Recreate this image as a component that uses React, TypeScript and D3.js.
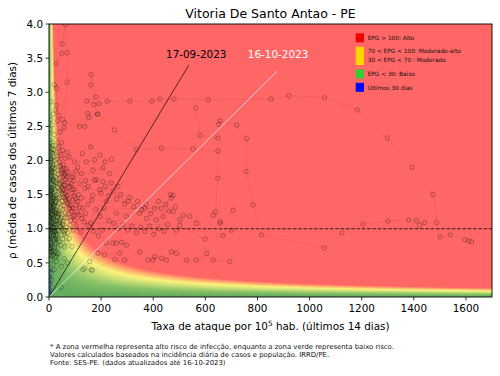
import React, { useMemo } from "react";
import * as d3 from "d3";

const W = 500;
const H = 376;
const X_MAX = 1700;
const Y_MAX = 4;

const titleText = "Vitoria De Santo Antao - PE";
const xTicks = [0, 200, 400, 600, 800, 1000, 1200, 1400, 1600];
const yTicks = [0, 0.5, 1, 1.5, 2, 2.5, 3, 3.5, 4];

// risk level colour stops for the background field
const riskStops = [0, 20, 45, 65, 85, 110];
const riskColors = ["#62ab5d", "#86c066", "#cfe178", "#fbf37a", "#ffb26e", "#ff6666"];
const RHO_EXP = 1.35;

// trajectory segments [attack rate, rho]
const segTop: [number, number][] = [
  [8, 2.86], [28, 2.81], [28, 3.06], [21, 3.11], [28, 3.42], [49, 3.57], [51, 3.71], [63, 3.99],
  [70, 3.58], [70, 3.15], [60, 2.55], [117, 2.5], [137, 2.5], [152, 2.63], [185, 2.68],
  [160, 3.11], [162, 3.26], [181, 2.93], [145, 2.87], [172, 2.82], [192, 2.83], [224, 2.87],
  [310, 2.87], [395, 2.87], [425, 2.9], [480, 2.9], [611, 2.89], [852, 2.9], [921, 2.95],
  [1058, 2.92], [1183, 2.74], [1298, 2.33], [1393, 1.9], [1474, 1.5], [1487, 1.09],
  [1501, 0.88], [1540, 0.91], [1597, 0.84], [1611, 0.82], [1621, 0.81],
];
const segSecond: [number, number][] = [
  [149, 2.69], [188, 2.68], [252, 2.45], [335, 2.16], [431, 2.18], [553, 2.17], [648, 2.14],
  [648, 1.74], [639, 1.25], [658, 1.1], [701, 0.98], [668, 0.9], [599, 0.85], [502, 1.05], [489, 0.98],
];
const segThird: [number, number][] = [
  [563, 2.77], [580, 2.37], [648, 2.33], [651, 2.53], [656, 2.58], [720, 2.52], [758, 2.32],
  [756, 1.84], [783, 1.35], [815, 0.91], [1056, 0.72], [1124, 0.94], [1205, 1.07], [1301, 1.11],
  [1380, 1.13], [1410, 1.12], [1442, 1.09], [1422, 1.05],
];
const segMid: [number, number][] = [
  [98, 1.98], [143, 1.98], [175, 2.01], [168, 1.86], [207, 1.89], [233, 1.81], [124, 1.81],
  [92, 1.76], [175, 1.71], [207, 1.69], [239, 1.67], [265, 1.62], [194, 1.57], [137, 1.59],
  [168, 1.49], [124, 1.45], [220, 1.4], [303, 1.4], [367, 1.3], [431, 1.3], [470, 1.45],
  [476, 1.49], [465, 1.5], [438, 1.18], [412, 1.13], [374, 1.15], [348, 1.23], [297, 1.18],
  [258, 1.23], [476, 1.25], [502, 1.13], [515, 1.2], [540, 1.18], [566, 1.08], [630, 1.2],
  [656, 1.08], [707, 1.27],
];
const segMid2: [number, number][] = [
  [150, 1.62], [182, 1.72], [200, 1.52], [215, 1.62], [228, 1.48], [246, 1.55], [260, 1.44],
  [275, 1.5], [290, 1.36], [310, 1.46], [325, 1.32], [340, 1.4], [356, 1.28], [372, 1.36],
  [390, 1.22], [405, 1.3], [420, 1.4], [448, 1.36], [460, 1.26], [485, 1.32], [180, 1.28],
  [196, 1.18], [212, 1.3], [230, 1.12], [248, 1.08], [265, 1.0], [283, 1.06], [302, 0.98],
  [318, 1.04], [336, 0.94], [352, 1.02], [368, 0.96], [386, 1.04], [402, 0.92], [420, 1.0],
  [440, 0.96], [455, 1.06], [160, 1.08], [172, 0.96], [190, 0.9], [205, 0.98], [150, 1.36],
  [165, 1.42], [140, 1.7], [118, 1.66], [110, 1.9], [128, 2.1], [160, 2.2], [195, 2.08],
  [215, 1.98], [240, 2.02],
];
const segLow: [number, number][] = [
  [220, 0.79], [245, 0.79], [258, 0.79], [278, 0.8], [297, 0.76], [271, 0.64], [213, 0.62],
  [188, 0.64], [156, 0.52], [137, 0.42], [130, 0.4], [162, 0.4], [166, 0.39], [252, 0.55],
  [290, 0.54], [348, 0.66], [380, 0.54], [399, 0.54], [406, 0.59], [432, 0.57], [451, 0.54],
  [470, 0.66], [489, 0.64], [528, 0.54], [566, 0.54], [605, 0.64], [630, 0.54], [694, 0.52],
];
const segDense: [number, number][] = [
  [5, 2.45], [12, 2.52], [20, 2.38], [33, 2.58], [42, 2.42], [58, 2.48], [26, 2.3], [15, 2.22], [48, 2.26],
  [3, 2.1], [9, 2.18], [18, 2.05], [24, 2.14], [31, 2.02], [38, 2.2], [45, 2.08], [52, 2.15], [61, 2.03],
  [70, 2.12], [80, 2.05], [28, 1.96], [6, 1.98], [14, 1.92], [36, 1.9], [55, 1.94], [66, 1.88],
  [2, 1.85], [8, 1.78], [11, 1.88], [17, 1.72], [22, 1.82], [27, 1.75], [33, 1.86], [40, 1.74],
  [46, 1.81], [51, 1.7], [58, 1.78], [64, 1.72], [73, 1.83], [85, 1.76], [95, 1.7], [102, 1.84],
  [4, 1.7], [19, 1.64], [30, 1.66], [1, 1.62], [6, 1.55], [10, 1.66], [15, 1.52], [21, 1.58],
  [25, 1.68], [29, 1.5], [34, 1.6], [38, 1.54], [43, 1.65], [48, 1.52], [54, 1.58], [60, 1.63],
  [67, 1.55], [76, 1.6], [88, 1.52], [99, 1.58], [112, 1.5], [8, 1.48], [18, 1.45], [37, 1.44],
  [2, 1.42], [5, 1.35], [12, 1.4], [16, 1.32], [23, 1.38], [27, 1.44], [31, 1.33], [36, 1.36],
  [41, 1.46], [45, 1.3], [50, 1.4], [57, 1.34], [63, 1.45], [70, 1.38], [79, 1.3], [90, 1.42],
  [104, 1.35], [118, 1.32], [9, 1.28], [20, 1.25], [35, 1.22], [1, 1.24], [4, 1.18], [7, 1.12],
  [13, 1.2], [17, 1.15], [24, 1.22], [29, 1.1], [33, 1.17], [39, 1.26], [44, 1.13], [49, 1.2],
  [55, 1.11], [62, 1.24], [68, 1.16], [75, 1.22], [83, 1.12], [93, 1.18], [108, 1.25], [125, 1.15],
  [140, 1.22], [2, 1.05], [6, 0.98], [10, 1.08], [14, 0.95], [19, 1.02], [26, 0.92], [31, 1.06],
  [37, 0.97], [42, 1.03], [47, 0.91], [53, 1.08], [59, 0.96], [66, 1.02], [72, 0.94], [81, 1.05],
  [92, 0.98], [105, 1.04], [120, 0.95], [3, 0.9], [1, 0.86], [5, 0.8], [9, 0.88], [13, 0.75],
  [18, 0.83], [23, 0.78], [28, 0.87], [34, 0.72], [40, 0.81], [46, 0.76], [52, 0.85], [60, 0.73],
  [68, 0.8], [78, 0.86], [88, 0.74], [4, 0.7], [16, 0.68], [2, 0.62], [6, 0.55], [11, 0.66],
  [15, 0.48], [22, 0.58], [30, 0.52], [38, 0.63], [48, 0.45], [58, 0.56], [70, 0.5], [3, 0.42],
  [8, 0.35], [20, 0.4], [2, 0.28], [5, 0.18], [10, 0.25], [1, 0.1], [47, 0.14],
  [3, 1.52], [7, 1.44], [11, 1.56], [14, 1.6], [18, 1.36], [22, 1.48], [26, 1.4], [4, 1.32],
  [8, 1.22], [12, 1.08], [16, 1.02], [21, 0.96], [25, 1.12], [6, 1.74], [10, 1.82], [14, 1.7],
  [19, 1.94], [23, 1.88], [3, 2.3], [7, 2.02], [2, 1.16], [5, 0.94], [9, 1.38], [12, 1.26],
  [15, 1.42], [19, 1.18], [24, 1.54], [28, 1.28], [32, 1.46], [36, 1.08], [40, 1.38], [44, 1.56],
  [48, 1.0], [52, 1.28], [56, 1.46], [60, 1.16],
];
const segDense2: [number, number][] = [
  [1, 2.02], [4, 1.94], [7, 1.86], [10, 1.76], [13, 1.84], [16, 1.9], [20, 1.78], [24, 1.7],
  [27, 1.62], [31, 1.72], [35, 1.8], [39, 1.66], [42, 1.58], [46, 1.68], [50, 1.6], [54, 1.5],
  [57, 1.64], [61, 1.52], [65, 1.42], [69, 1.48], [73, 1.36], [77, 1.44], [82, 1.34], [86, 1.26],
  [91, 1.3], [96, 1.2], [100, 1.12], [3, 1.6], [6, 1.5], [9, 1.58], [12, 1.46], [15, 1.36],
  [18, 1.28], [21, 1.34], [24, 1.26], [27, 1.18], [30, 1.24], [33, 1.12], [36, 1.2], [39, 1.1],
  [42, 1.22], [45, 1.04], [48, 1.16], [51, 1.06], [54, 0.98], [57, 1.06], [60, 0.92], [63, 0.98],
  [66, 0.88], [1, 1.34], [3, 1.26], [5, 1.14], [7, 1.3], [9, 1.04], [11, 1.16], [13, 0.98],
  [15, 1.1], [17, 0.9], [19, 0.96], [21, 1.06], [23, 0.86], [25, 0.96], [27, 1.02], [29, 0.8],
  [31, 0.9], [33, 0.98], [35, 0.84], [2, 0.76], [4, 0.84], [6, 0.66], [8, 0.72], [10, 0.78],
  [12, 0.6], [14, 0.86], [17, 0.62], [20, 0.72], [24, 0.66], [28, 0.6], [32, 0.64], [2, 2.2],
  [5, 2.26], [8, 2.12], [11, 2.02], [14, 2.1], [17, 2.16], [21, 2.0], [25, 2.22], [29, 2.12],
  [34, 2.06], [40, 1.98], [44, 1.92], [49, 1.86], [53, 1.82], [57, 1.88], [62, 1.8], [68, 1.76],
  [74, 1.68], [80, 1.62], [86, 1.66], [92, 1.58], [97, 1.48], [103, 1.44], [110, 1.4], [116, 1.2],
  [130, 1.3], [135, 1.1], [150, 1.05], [2, 1.72], [2, 1.5], [1, 0.96], [1, 0.7], [3, 1.0],
  [2, 2.4], [8, 2.6], [16, 2.68], [25, 2.74], [38, 2.66], [52, 2.6],
];
const lastDays: [number, number][] = [
  [1, 0.05], [2, 0.12], [1.5, 0.22], [3, 0.3], [2, 0.38], [1, 0.18], [0.5, 0.08],
];

const dateLabels = ["17-09-2023", "16-10-2023"];
const dateLineEnds: [number, number][] = [[537, 3.4], [876, 3.31]];
const dateTextPos: [number, number][] = [[565, 3.56], [879, 3.56]];
const dateColors = ["#000000", "#ffffff"];

const legendItems = [
  { color: "#f00000", lines: ["EPG > 100: Alto"] },
  { color: "#ffd500", lines: ["70 < EPG < 100: Moderado-alto", "30 < EPG < 70 : Moderado"] },
  { color: "#32cd32", lines: ["EPG < 30: Baixo"] },
  { color: "#0000ff", lines: ["Últimos 30 dias"] },
];

const footLines = [
  "* A zona vermelha representa alto risco de infecção, enquanto a zona verde representa baixo risco.",
  "Valores calculados baseados na incidência diária de casos e população. IRRD/PE.",
  "Fonte: SES-PE. (dados atualizados até 16-10-2023)",
];

const FONT = "DejaVu Sans, sans-serif";

export default function App() {
  const L = 49, R = 492, T = 24, B = 297;
  const x = d3.scaleLinear().domain([0, X_MAX]).range([L, R]);
  const y = d3.scaleLinear().domain([0, Y_MAX]).range([B, T]);

  const bg = useMemo(() => {
    const nx = R - L, ny = B - T;
    const color = d3.scaleLinear<string>().domain(riskStops).range(riskColors)
      .interpolate(d3.interpolateRgb).clamp(true);
    const canvas = document.createElement("canvas");
    canvas.width = nx; canvas.height = ny;
    const ctx = canvas.getContext("2d");
    if (!ctx) return "";
    const img = ctx.createImageData(nx, ny);
    for (let j = 0; j < ny; j++) {
      const yv = y.invert(T + j + 0.5);
      for (let i = 0; i < nx; i++) {
        const xv = x.invert(L + i + 0.5);
        const c = d3.rgb(color(xv * Math.pow(Math.max(yv, 0), RHO_EXP)));
        const k = (j * nx + i) * 4;
        img.data[k] = c.r; img.data[k + 1] = c.g; img.data[k + 2] = c.b; img.data[k + 3] = 255;
      }
    }
    ctx.putImageData(img, 0, 0);
    return canvas.toDataURL();
  }, []);

  const line = d3.line<[number, number]>().x((d) => x(d[0])).y((d) => y(d[1]));
  const segments = [segDense, segDense2, segMid, segMid2, segLow, segTop, segSecond, segThird];

  return (
    <svg width={W} height={H} style={{ position: "absolute", left: 0, top: 0, background: "#fff" }}
      fontFamily={FONT}>
      <defs>
        <clipPath id="plot"><rect x={L} y={T} width={R - L} height={B - T} /></clipPath>
      </defs>
      <text x={(L + R) / 2} y={18} textAnchor="middle" fontSize={12.5}>{titleText}</text>
      <g clipPath="url(#plot)">
        {bg && <image href={bg} x={L} y={T} width={R - L} height={B - T} preserveAspectRatio="none" />}
        {segments.map((s, i) => (
          <path key={i} d={line(s) || ""} fill="none" stroke="#000" strokeOpacity={0.22}
            strokeWidth={0.6} strokeDasharray="1,1.2" />
        ))}
        {segments.map((s, i) => (
          <g key={"c" + i}>
            {s.map((d, k) => (
              <circle key={k} cx={x(d[0])} cy={y(d[1])} r={2.2} fill="none" stroke="#000"
                strokeOpacity={0.36} strokeWidth={0.75} />
            ))}
          </g>
        ))}
        {lastDays.map((d, k) => (
          <circle key={"b" + k} cx={x(d[0])} cy={y(d[1])} r={1.6} fill="none" stroke="#0000ff"
            strokeOpacity={0.7} strokeWidth={0.7} />
        ))}
        <line x1={x(0)} x2={x(X_MAX)} y1={y(1)} y2={y(1)} stroke="#000" strokeOpacity={0.75}
          strokeWidth={1.2} strokeDasharray="3.7,1.6" />
        {dateLineEnds.map((d, i) => (
          <line key={i} x1={x(0)} y1={y(0)} x2={x(d[0])} y2={y(d[1])} stroke={dateColors[i]}
            strokeWidth={0.8} strokeOpacity={0.85} />
        ))}
        {dateTextPos.map((d, i) => (
          <text key={i} x={x(d[0])} y={y(d[1]) + 4} textAnchor="middle" fontSize={10.4}
            fill={dateColors[i]}>{dateLabels[i]}</text>
        ))}
      </g>
      <rect x={L} y={T} width={R - L} height={B - T} fill="none" stroke="#000" strokeWidth={0.9} />
      {xTicks.map((t) => (
        <g key={t}>
          <line x1={x(t)} x2={x(t)} y1={B} y2={B + 3.5} stroke="#000" strokeWidth={0.8} />
          <text x={x(t)} y={B + 15} textAnchor="middle" fontSize={10.4}>{t}</text>
        </g>
      ))}
      {yTicks.map((t) => (
        <g key={t}>
          <line x1={L - 3.5} x2={L} y1={y(t)} y2={y(t)} stroke="#000" strokeWidth={0.8} />
          <text x={L - 6} y={y(t) + 3.7} textAnchor="end" fontSize={10.4}>{t.toFixed(1)}</text>
        </g>
      ))}
      <text x={(L + R) / 2} y={330} textAnchor="middle" fontSize={10.4}>
        Taxa de ataque por 10<tspan fontSize={7.3} dy={-4}>5</tspan>
        <tspan dy={4}> hab. (últimos 14 dias)</tspan>
      </text>
      <text transform={`translate(16,${(T + B) / 2}) rotate(-90)`} textAnchor="middle" fontSize={10.4}>
        ρ (média de casos dos últimos 7 dias)
      </text>
      {(() => {
        let yy = 33.3;
        return legendItems.map((it, i) => {
          const h = it.lines.length === 1 ? 9 : 18.3;
          const top = yy;
          yy += h + 4.4;
          return (
            <g key={i}>
              <rect x={355.7} y={top} width={8.3} height={h} fill={it.color} />
              {it.lines.map((ln, k) => (
                <text key={k} x={367.7} y={top + 6.7 + k * 8.3} fontSize={5.8} fill="#111">{ln}</text>
              ))}
            </g>
          );
        });
      })()}
      {footLines.map((ln, i) => (
        <text key={i} x={50} y={348.5 + i * 8} fontSize={6.9} fill="#111">{ln}</text>
      ))}
    </svg>
  );
}
